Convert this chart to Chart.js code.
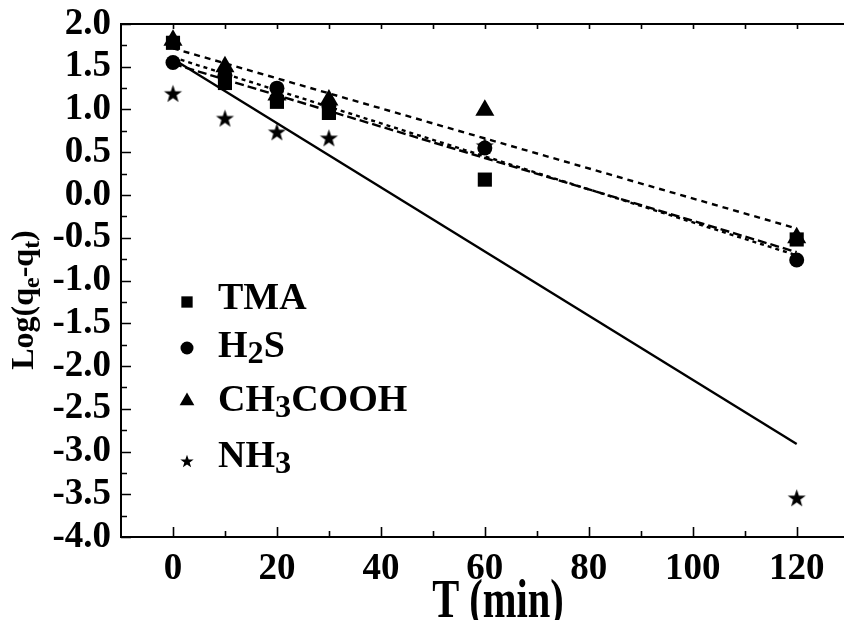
<!DOCTYPE html>
<html>
<head>
<meta charset="utf-8">
<script src="https://cdn.jsdelivr.net/npm/chart.js@4.4.1/dist/chart.umd.min.js"></script>
<style>
  html, body { margin: 0; padding: 0; background: #fff; overflow: hidden; width: 844px; height: 620px; }
  #wrap { width: 844px; height: 620px; overflow: hidden; }
  canvas { display: block; }
</style>
</head>
<body>
<div id="wrap"><canvas id="c" width="844" height="620"></canvas></div>
<script>
// Pseudo-first-order kinetics: log(qe - qt) against contact time
const times = [0, 10, 20, 30, 60, 120];
const seriesNames = ['TMA', 'H2S', 'CH3COOH', 'NH3'];
const tmaValues = [1.78, 1.31, 1.09, 0.96, 0.18, -0.52];
const h2sValues = [1.55, 1.40, 1.25, 1.04, 0.55, -0.76];
const aceticValues = [1.81, 1.50, 1.17, 1.11, 0.99, -0.50];
const nh3Values = [1.19, 0.90, 0.74, 0.67, 0.58, -3.54];
const xTickValues = [0, 20, 40, 60, 80, 100, 120];
const yTickValues = [2.0, 1.5, 1.0, 0.5, 0.0, -0.5, -1.0, -1.5, -2.0, -2.5, -3.0, -3.5, -4.0];

const FONT = '"Liberation Serif", "Times New Roman", serif';

// filled five-pointed star used as a point style
function makeStar(R) {
  const size = Math.ceil(R * 2) + 2;
  const cv = document.createElement('canvas');
  cv.width = size; cv.height = size;
  const g = cv.getContext('2d');
  const cx = size / 2, cy = size / 2 + R * 0.1, r = R * 0.4;
  g.beginPath();
  for (let i = 0; i < 10; i++) {
    const rad = i % 2 === 0 ? R : r;
    const a = -Math.PI / 2 + i * Math.PI / 5;
    const px = cx + rad * Math.cos(a), py = cy + rad * Math.sin(a);
    if (i === 0) g.moveTo(px, py); else g.lineTo(px, py);
  }
  g.closePath();
  g.fillStyle = '#000';
  g.fill();
  return cv;
}
const starBig = makeStar(9.5);
const starSmall = makeStar(7);

// least-squares straight line through each series
function linearFit(xs, ys) {
  const n = xs.length;
  const mx = xs.reduce((a, b) => a + b, 0) / n;
  const my = ys.reduce((a, b) => a + b, 0) / n;
  let sxy = 0, sxx = 0;
  for (let i = 0; i < n; i++) { sxy += (xs[i] - mx) * (ys[i] - my); sxx += (xs[i] - mx) ** 2; }
  const slope = sxy / sxx;
  return { slope, intercept: my - slope * mx };
}
function fitPoints(ys) {
  const f = linearFit(times, ys);
  const x0 = times[0], x1 = times[times.length - 1];
  return [{ x: x0, y: f.intercept + f.slope * x0 }, { x: x1, y: f.intercept + f.slope * x1 }];
}
function toPoints(ys) { return times.map((t, i) => ({ x: t, y: ys[i] })); }

const seriesValues = [tmaValues, h2sValues, aceticValues, nh3Values];
const markerStyles = [
  { pointStyle: 'rect', radius: 10, legendRadius: 8 },
  { pointStyle: 'circle', radius: 7.5, legendRadius: 6.5 },
  { pointStyle: 'triangle', radius: 11, legendRadius: 8.5 },
  { pointStyle: starBig, radius: 9, legendStyle: starSmall, legendRadius: 7 }
];
const fitDashes = [[9, 4], [4, 4], [6, 5], []];

const datasets = [];
seriesNames.forEach((name, i) => {
  datasets.push({
    label: name,
    data: toPoints(seriesValues[i]),
    showLine: false,
    pointStyle: markerStyles[i].pointStyle,
    pointRadius: markerStyles[i].radius,
    pointHoverRadius: markerStyles[i].radius,
    backgroundColor: '#000',
    borderColor: '#000',
    pointBorderWidth: 0,
    order: 1
  });
});
seriesNames.forEach((name, i) => {
  datasets.push({
    label: name + ' fit',
    isFit: true,
    data: fitPoints(seriesValues[i]),
    showLine: true,
    pointRadius: 0,
    borderColor: '#000',
    borderWidth: 2.4,
    borderDash: fitDashes[i],
    fill: false,
    order: 2
  });
});

// split a formula into normal and subscript (digit) runs
function formulaSegments(label) {
  const out = [];
  label.split(/(\d+)/).forEach(s => { if (s) out.push({ t: s, sub: /^\d+$/.test(s) }); });
  return out;
}
function drawRich(ctx, segs, x, y, size, align, subScale, subShift) {
  let w = 0;
  segs.forEach(s => {
    ctx.font = 'bold ' + (s.sub ? size * subScale : size) + 'px ' + FONT;
    s.w = ctx.measureText(s.t).width; w += s.w;
  });
  let cx = align === 'center' ? x - w / 2 : x;
  ctx.textAlign = 'left';
  ctx.textBaseline = 'alphabetic';
  segs.forEach(s => {
    ctx.font = 'bold ' + (s.sub ? size * subScale : size) + 'px ' + FONT;
    ctx.fillText(s.t, cx, y + (s.sub ? subShift : 0));
    cx += s.w;
  });
}

const framePlugin = {
  id: 'frame',
  afterDatasetsDraw(chart) {
    const ctx = chart.ctx;
    const { left, right, top, bottom } = chart.chartArea;
    const xs = chart.scales.x, ys = chart.scales.y;
    ctx.save();
    ctx.strokeStyle = '#000';
    ctx.lineWidth = 2;
    ctx.beginPath();
    ctx.moveTo(right + 2, top); ctx.lineTo(left, top);
    ctx.lineTo(left, bottom); ctx.lineTo(right + 2, bottom);
    ctx.stroke();

    ctx.lineWidth = 1.6;
    ctx.beginPath();
    const xMinor = [];
    for (let i = 0; i < xTickValues.length - 1; i++) xMinor.push((xTickValues[i] + xTickValues[i + 1]) / 2);
    xTickValues.forEach(v => {
      const p = Math.round(xs.getPixelForValue(v)) + 0.5;
      ctx.moveTo(p, bottom); ctx.lineTo(p, bottom - 10);
      ctx.moveTo(p, top); ctx.lineTo(p, top + 5);
    });
    xMinor.forEach(v => {
      const p = Math.round(xs.getPixelForValue(v)) + 0.5;
      ctx.moveTo(p, bottom); ctx.lineTo(p, bottom - 6);
      ctx.moveTo(p, top); ctx.lineTo(p, top + 5);
    });
    const yMinor = [];
    for (let i = 0; i < yTickValues.length - 1; i++) yMinor.push((yTickValues[i] + yTickValues[i + 1]) / 2);
    yTickValues.forEach(v => {
      const p = Math.round(ys.getPixelForValue(v)) + 0.5;
      ctx.moveTo(left, p); ctx.lineTo(left + 10, p);
    });
    yMinor.forEach(v => {
      const p = Math.round(ys.getPixelForValue(v)) + 0.5;
      ctx.moveTo(left, p); ctx.lineTo(left + 6, p);
    });
    ctx.stroke();
    ctx.restore();
  },
  afterDraw(chart) {
    const ctx = chart.ctx;
    ctx.save();
    ctx.fillStyle = '#000';

    // x axis title, set in a tall condensed face
    ctx.save();
    ctx.translate(498, 617);
    ctx.scale(0.75, 1);
    ctx.font = 'bold 54px ' + FONT;
    ctx.textAlign = 'center';
    ctx.textBaseline = 'alphabetic';
    ctx.fillText('T (min)', 0, 0);
    ctx.restore();

    // y axis title with subscripts
    ctx.save();
    ctx.translate(33, 300);
    ctx.rotate(-Math.PI / 2);
    drawRich(ctx, [
      { t: 'Log(q' }, { t: 'e', sub: true }, { t: '-q' }, { t: 't', sub: true }, { t: ')' }
    ], 0, 0, 32, 'center', 0.75, 6);
    ctx.restore();

    // legend
    const rowBase = [309, 357, 411, 467];
    const rowMark = [302, 348, 401, 461];
    let row = 0;
    chart.data.datasets.forEach((ds, i) => {
      if (ds.isFit) return;
      const m = markerStyles[i];
      const style = m.legendStyle || m.pointStyle;
      const opts = { pointStyle: style, radius: m.legendRadius, rotation: 0, borderWidth: 0 };
      ctx.fillStyle = '#000';
      ctx.strokeStyle = '#000';
      if (Chart.helpers && Chart.helpers.drawPoint) {
        Chart.helpers.drawPoint(ctx, opts, 187, rowMark[row]);
      } else if (style instanceof HTMLCanvasElement) {
        ctx.drawImage(style, 187 - style.width / 2, rowMark[row] - style.height / 2);
      } else {
        ctx.beginPath(); ctx.arc(187, rowMark[row], m.legendRadius, 0, Math.PI * 2); ctx.fill();
      }
      ctx.fillStyle = '#000';
      drawRich(ctx, formulaSegments(ds.label), 218, rowBase[row], 38, 'left', 0.85, 6);
      row++;
    });
    ctx.restore();
  }
};

new Chart(document.getElementById('c'), {
  type: 'scatter',
  data: { datasets },
  options: {
    responsive: false,
    animation: false,
    devicePixelRatio: 1,
    layout: { autoPadding: false, padding: { top: 24, right: 0, bottom: 0, left: 0 } },
    plugins: { legend: { display: false }, tooltip: { enabled: false }, title: { display: false } },
    scales: {
      x: {
        type: 'linear',
        min: -10,
        max: 129.1,
        afterBuildTicks: axis => { axis.ticks = xTickValues.map(v => ({ value: v })); },
        afterFit: scale => {
          scale.height = 83;
          scale.paddingLeft = 0;
          scale.paddingRight = 0;
        },
        grid: { display: false, drawTicks: false },
        border: { display: false },
        ticks: {
          padding: 10,
          color: '#000',
          maxRotation: 0,
          autoSkip: false,
          font: { family: FONT, weight: 'bold', size: 37 },
          callback: v => String(v)
        }
      },
      y: {
        type: 'linear',
        min: -4,
        max: 2,
        afterBuildTicks: axis => { axis.ticks = yTickValues.map(v => ({ value: v })); },
        afterFit: scale => {
          scale.width = 121;
          scale.paddingTop = 0;
          scale.paddingBottom = 0;
        },
        grid: { display: false, drawTicks: false },
        border: { display: false },
        ticks: {
          padding: 10,
          color: '#000',
          autoSkip: false,
          font: { family: FONT, weight: 'bold', size: 37 },
          callback: v => Number(v).toFixed(1)
        }
      }
    }
  },
  plugins: [framePlugin]
});
</script>
</body>
</html>
